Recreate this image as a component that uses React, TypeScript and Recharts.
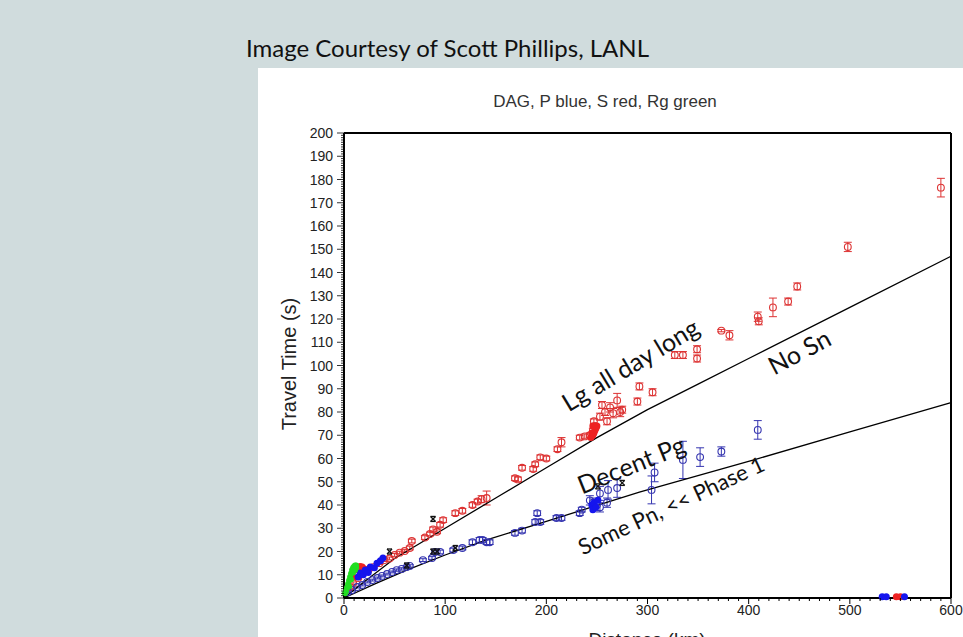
import React from 'react';
import { ScatterChart, Scatter, XAxis, YAxis, ErrorBar } from 'recharts';

// S arrivals (red, open circles with error bars)
const sPicks = [
  { x: 6, y: 4.7, e: 0.5 }, { x: 9, y: 6.4, e: 0.5 }, { x: 14, y: 8.6, e: 0.5 }, { x: 19, y: 10.7, e: 0.5 },
  { x: 24, y: 12, e: 0.5 }, { x: 29, y: 13.3, e: 0.5 }, { x: 35, y: 15, e: 0.6 }, { x: 40, y: 16.3, e: 0.6 },
  { x: 45, y: 17, e: 0.6 }, { x: 50, y: 18.5, e: 0.6 }, { x: 55, y: 19.5, e: 0.6 }, { x: 60, y: 20.2, e: 0.6 },
  { x: 65, y: 21.5, e: 0.8 }, { x: 67, y: 24.5, e: 0.8 }, { x: 80, y: 26, e: 0.8 }, { x: 85, y: 27.5, e: 0.8 },
  { x: 88, y: 29.5, e: 1 }, { x: 92, y: 28.5, e: 0.8 }, { x: 95, y: 31.5, e: 1 }, { x: 98, y: 33.5, e: 1 },
  { x: 110, y: 36.5, e: 1 }, { x: 117, y: 37.5, e: 1 }, { x: 127, y: 40, e: 1 }, { x: 132, y: 41.5, e: 1 },
  { x: 136, y: 42.5, e: 1.5 }, { x: 141, y: 43, e: 3 },
  { x: 169, y: 51.5, e: 1 }, { x: 172, y: 51, e: 1 }, { x: 176, y: 56, e: 1 }, { x: 187, y: 55.5, e: 1 },
  { x: 189, y: 57.5, e: 1 }, { x: 194, y: 60.5, e: 1 }, { x: 200, y: 60, e: 1 }, { x: 211, y: 64, e: 1 },
  { x: 215, y: 67, e: 2 }, { x: 233, y: 69, e: 1 }, { x: 238, y: 69.5, e: 1 }, { x: 243, y: 70, e: 1 },
  { x: 246, y: 72, e: 1 }, { x: 248, y: 74, e: 1 }, { x: 247, y: 76, e: 1 }, { x: 253, y: 78, e: 1.5 },
  { x: 255, y: 83, e: 1.5 }, { x: 258, y: 80, e: 1.5 }, { x: 260, y: 76, e: 1.5 }, { x: 263, y: 82, e: 2 },
  { x: 266, y: 79.5, e: 2 }, { x: 270, y: 85, e: 3 }, { x: 273, y: 80, e: 2 }, { x: 275, y: 81, e: 1.5 },
  { x: 290, y: 84.5, e: 1.5 }, { x: 292, y: 91, e: 1.5 }, { x: 305, y: 88.5, e: 1.5 },
  { x: 327, y: 104.5, e: 1.5 }, { x: 335, y: 104.5, e: 1.5 }, { x: 349, y: 103, e: 1.5 }, { x: 349, y: 107, e: 1.5 },
  { x: 373, y: 115, e: 0.5 }, { x: 381, y: 113, e: 2 }, { x: 409, y: 121, e: 2 }, { x: 410, y: 119, e: 1.5 },
  { x: 424, y: 125, e: 4 }, { x: 439, y: 127.5, e: 1.5 }, { x: 448, y: 134, e: 1.5 }, { x: 498, y: 151, e: 2 },
  { x: 590, y: 176.5, e: 4 },
];

const sFilled = [
  { x: 9, y: 9 }, { x: 14, y: 12 }, { x: 16, y: 13.5 }, { x: 18, y: 13.3 }, { x: 20, y: 12.5 }, { x: 22, y: 12 },
  { x: 244, y: 69 }, { x: 245, y: 71 }, { x: 246, y: 70 }, { x: 247, y: 71 }, { x: 248, y: 72 },
  { x: 249, y: 73 }, { x: 246, y: 74 }, { x: 250, y: 74 },
  { x: 546, y: 0.5 }, { x: 550, y: 0.5 },
];

// P arrivals (blue)
const pPicks = [
  { x: 4, y: 2.6, e: 0.4 }, { x: 8, y: 3.4, e: 0.4 }, { x: 13, y: 4.7, e: 0.4 }, { x: 18, y: 5.6, e: 0.4 },
  { x: 23, y: 6.9, e: 0.4 }, { x: 28, y: 7.7, e: 0.4 }, { x: 33, y: 8.6, e: 0.4 }, { x: 37.5, y: 9.5, e: 0.4 },
  { x: 42.5, y: 10.3, e: 0.4 }, { x: 47.5, y: 11.2, e: 0.4 }, { x: 52, y: 12, e: 0.5 }, { x: 57, y: 12.5, e: 0.5 },
  { x: 62, y: 13.3, e: 0.5 }, { x: 65, y: 13.8, e: 0.5 }, { x: 78, y: 16.3, e: 0.6 }, { x: 87, y: 17.2, e: 0.6 },
  { x: 90, y: 19.8, e: 0.8 }, { x: 95, y: 19.8, e: 0.8 }, { x: 108, y: 20.6, e: 0.8 }, { x: 117, y: 21.5, e: 0.8 },
  { x: 127, y: 24, e: 1 }, { x: 134, y: 25, e: 1 }, { x: 137, y: 25, e: 1 }, { x: 141, y: 24, e: 1 },
  { x: 144, y: 24, e: 1 }, { x: 169, y: 28, e: 1 }, { x: 176, y: 29, e: 1 }, { x: 189, y: 32.7, e: 1 },
  { x: 191, y: 36.5, e: 1 }, { x: 194, y: 32.7, e: 1 }, { x: 210, y: 34.4, e: 1 }, { x: 215, y: 34.4, e: 1 },
  { x: 233, y: 36.5, e: 1 }, { x: 235, y: 38, e: 1 }, { x: 243, y: 42, e: 2 }, { x: 246, y: 41, e: 2 },
  { x: 250, y: 40, e: 2.5 }, { x: 253, y: 39, e: 2 }, { x: 253, y: 45, e: 3 }, { x: 260, y: 41, e: 2 },
  { x: 261, y: 46.5, e: 4 }, { x: 270, y: 47.3, e: 4 },
  { x: 304, y: 46.5, e: 6 }, { x: 307, y: 54, e: 4 }, { x: 335, y: 59.4, e: 8 }, { x: 352, y: 60.6, e: 4 },
  { x: 373, y: 63, e: 2 }, { x: 409, y: 72.3, e: 4 },
];

const pFilled = [
  { x: 14, y: 9 }, { x: 16, y: 10.7 }, { x: 19, y: 10 }, { x: 21, y: 12 }, { x: 24, y: 11 }, { x: 26, y: 13.3 },
  { x: 30, y: 13 }, { x: 32.6, y: 15 }, { x: 36, y: 16 }, { x: 38.5, y: 17.2 },
  { x: 245, y: 40 }, { x: 246, y: 38 }, { x: 247, y: 41 }, { x: 249, y: 39 }, { x: 251, y: 42 },
  { x: 532, y: 0.5 }, { x: 536, y: 0.5 }, { x: 554, y: 0.5 },
];

// Rg arrivals (green, filled)
const rgPicks = [
  { x: 1, y: 2 }, { x: 2, y: 3 }, { x: 3, y: 4.5 }, { x: 4, y: 6 }, { x: 5, y: 7.5 }, { x: 5, y: 5 },
  { x: 6, y: 9 }, { x: 7, y: 10.5 }, { x: 7, y: 8 }, { x: 8, y: 12 }, { x: 9, y: 13 }, { x: 9, y: 11 },
  { x: 10, y: 13.5 }, { x: 11, y: 14 }, { x: 11, y: 12 }, { x: 12, y: 13 }, { x: 12, y: 14 },
];

// other picks (black)
const otherPicks = [
  { x: 45, y: 20 }, { x: 62, y: 14 }, { x: 88, y: 34 }, { x: 88, y: 20 }, { x: 92, y: 20 },
  { x: 110, y: 21.5 }, { x: 251, y: 48 }, { x: 275, y: 49.5 },
];

// model travel-time curves
const sModel = [
  { x: 0, y: 0 }, { x: 20, y: 7 }, { x: 50, y: 17 }, { x: 100, y: 30 }, { x: 150, y: 43 }, { x: 200, y: 56 },
  { x: 250, y: 69 }, { x: 300, y: 81 }, { x: 350, y: 92 }, { x: 400, y: 103 }, { x: 500, y: 125 }, { x: 600, y: 147 },
];
const pModel = [
  { x: 0, y: 0 }, { x: 30, y: 6 }, { x: 62, y: 12 }, { x: 100, y: 18.5 }, { x: 141, y: 25 }, { x: 200, y: 33 },
  { x: 292, y: 45.5 }, { x: 406, y: 59.5 }, { x: 500, y: 71.5 }, { x: 600, y: 84 },
];

const xMinor: number[] = [];
for (let v = 0; v <= 600; v += 10) xMinor.push(v);
const yMinor: number[] = [];
for (let v = 0; v <= 200; v += 1) yMinor.push(v);

const RED = '#dd3333';
const BLUE = '#3535b0';
const FONT = '"Liberation Sans", Arial, Helvetica, sans-serif';
const ANNOT = 'Lato, "Open Sans", sans-serif';

const openCircle = (color: string) => (p: any) => (
  <circle cx={p.cx} cy={p.cy} r={3.4} fill="none" stroke={color} strokeWidth={1.1} />
);
const dot = (color: string, r: number) => (p: any) => (
  <circle cx={p.cx} cy={p.cy} r={r} fill={color} stroke="none" />
);
const cross = (p: any) => (
  <g stroke="#111" strokeWidth={1.3}>
    <line x1={p.cx - 2.5} y1={p.cy - 2.5} x2={p.cx + 2.5} y2={p.cy + 2.5} />
    <line x1={p.cx - 2.5} y1={p.cy + 2.5} x2={p.cx + 2.5} y2={p.cy - 2.5} />
    <line x1={p.cx - 2.5} y1={p.cy - 2.5} x2={p.cx + 2.5} y2={p.cy - 2.5} />
    <line x1={p.cx - 2.5} y1={p.cy + 2.5} x2={p.cx + 2.5} y2={p.cy + 2.5} />
  </g>
);
const noShape = () => <g />;

const BottomTick = (props: any) => {
  const { x, y, payload } = props;
  const major = payload.value % 100 === 0;
  return (
    <g>
      <line x1={x} x2={x} y1={y} y2={y + (major ? 6 : 3)} stroke="#000" />
      {major && (
        <text x={x} y={y + 17} textAnchor="middle" fontSize={14} fill="#222" fontFamily={FONT}>
          {payload.value}
        </text>
      )}
    </g>
  );
};
const TopTick = (props: any) => {
  const { x, y, payload } = props;
  const major = payload.value % 100 === 0;
  return <line x1={x} x2={x} y1={y} y2={y - (major ? 6 : 3)} stroke="#000" />;
};
const LeftTick = (props: any) => {
  const { x, y, payload } = props;
  const major = payload.value % 10 === 0;
  return (
    <g>
      <line x1={x} x2={x - (major ? 7 : 3)} y1={y} y2={y} stroke="#000" strokeWidth={0.8} />
      {major && (
        <text x={x - 11} y={y + 5} textAnchor="end" fontSize={14} fill="#222" fontFamily={FONT}>
          {payload.value}
        </text>
      )}
    </g>
  );
};
const RightTick = (props: any) => {
  const { x, y, payload } = props;
  const major = payload.value % 10 === 0;
  return <line x1={x} x2={x + (major ? 7 : 4)} y1={y} y2={y} stroke="#000" strokeWidth={0.8} />;
};

const axisLine = { stroke: '#000', strokeWidth: 2 };

export default function App() {
  return (
    <div style={{ position: 'absolute', left: 0, top: 0, width: 963, height: 637, overflow: 'hidden', background: '#d0dcdd' }}>
      <div style={{ position: 'absolute', left: 258, top: 68, width: 705, height: 569, background: '#fff' }}>
        <ScatterChart width={705} height={569} margin={{ top: 57, right: 4, bottom: 9, left: 46 }}>
          <XAxis xAxisId="top" orientation="top" type="number" dataKey="x" domain={[0, 600]} ticks={xMinor}
            interval={0} tickSize={0} tickMargin={0} height={8} tick={<TopTick />} tickLine={false} axisLine={axisLine} />
          <XAxis type="number" dataKey="x" domain={[0, 600]} ticks={xMinor} interval={0} tickSize={0} tickMargin={0}
            height={30} tick={<BottomTick />} tickLine={false} axisLine={axisLine} />
          <YAxis type="number" dataKey="y" domain={[0, 200]} ticks={yMinor} interval={0} tickSize={0} tickMargin={0}
            width={40} tick={<LeftTick />} tickLine={false} axisLine={axisLine} />
          <YAxis yAxisId="right" orientation="right" type="number" dataKey="y" domain={[0, 200]} ticks={yMinor}
            interval={0} tickSize={0} tickMargin={0} width={8} tick={<RightTick />} tickLine={false} axisLine={axisLine} />

          <Scatter data={sModel} line={{ stroke: '#000', strokeWidth: 1.3 }} shape={noShape} isAnimationActive={false} />
          <Scatter data={pModel} line={{ stroke: '#000', strokeWidth: 1.3 }} shape={noShape} isAnimationActive={false} />

          <Scatter data={sPicks} shape={openCircle(RED)} isAnimationActive={false}>
            <ErrorBar dataKey="e" direction="y" width={4} stroke={RED} strokeWidth={1} />
          </Scatter>
          <Scatter data={pPicks} shape={openCircle(BLUE)} isAnimationActive={false}>
            <ErrorBar dataKey="e" direction="y" width={4} stroke={BLUE} strokeWidth={1} />
          </Scatter>
          <Scatter data={sFilled} shape={dot('#ee2222', 3.5)} isAnimationActive={false} />
          <Scatter data={pFilled} shape={dot('#1515ee', 3.5)} isAnimationActive={false} />
          <Scatter data={rgPicks} shape={dot('#22dd22', 3)} isAnimationActive={false} />
          <Scatter data={otherPicks} shape={cross} isAnimationActive={false} />
        </ScatterChart>
      </div>

      <svg width={963} height={637} style={{ position: 'absolute', left: 0, top: 0, pointerEvents: 'none' }}>
        <text x={246} y={57} fontFamily={ANNOT} fontSize={24} fill="#111">Image Courtesy of Scott Phillips, LANL</text>
        <text x={605} y={107} textAnchor="middle" fontFamily={FONT} fontSize={17} fill="#333">
          DAG, P blue, S red, Rg green
        </text>
        <text x={296} y={364} textAnchor="middle" fontFamily={FONT} fontSize={20} fill="#222"
          transform="rotate(-90 296 364)">Travel Time (s)</text>
        <text x={647} y={646} textAnchor="middle" fontFamily={FONT} fontSize={19} fill="#222">Distance (km)</text>

        <g fontFamily={ANNOT} fill="#111">
          <text transform="translate(630 364) rotate(-31)" textAnchor="middle" dominantBaseline="central" fontSize={25}>Lg all day long</text>
          <text transform="translate(799 351) rotate(-28)" textAnchor="middle" dominantBaseline="central" fontSize={25}>No Sn</text>
          <text transform="translate(631 464) rotate(-22)" textAnchor="middle" dominantBaseline="central" fontSize={25}>Decent Pg</text>
          <text transform="translate(671 505) rotate(-25)" textAnchor="middle" dominantBaseline="central" fontSize={22}>Some Pn, &lt;&lt; Phase 1</text>
        </g>
      </svg>
    </div>
  );
}
